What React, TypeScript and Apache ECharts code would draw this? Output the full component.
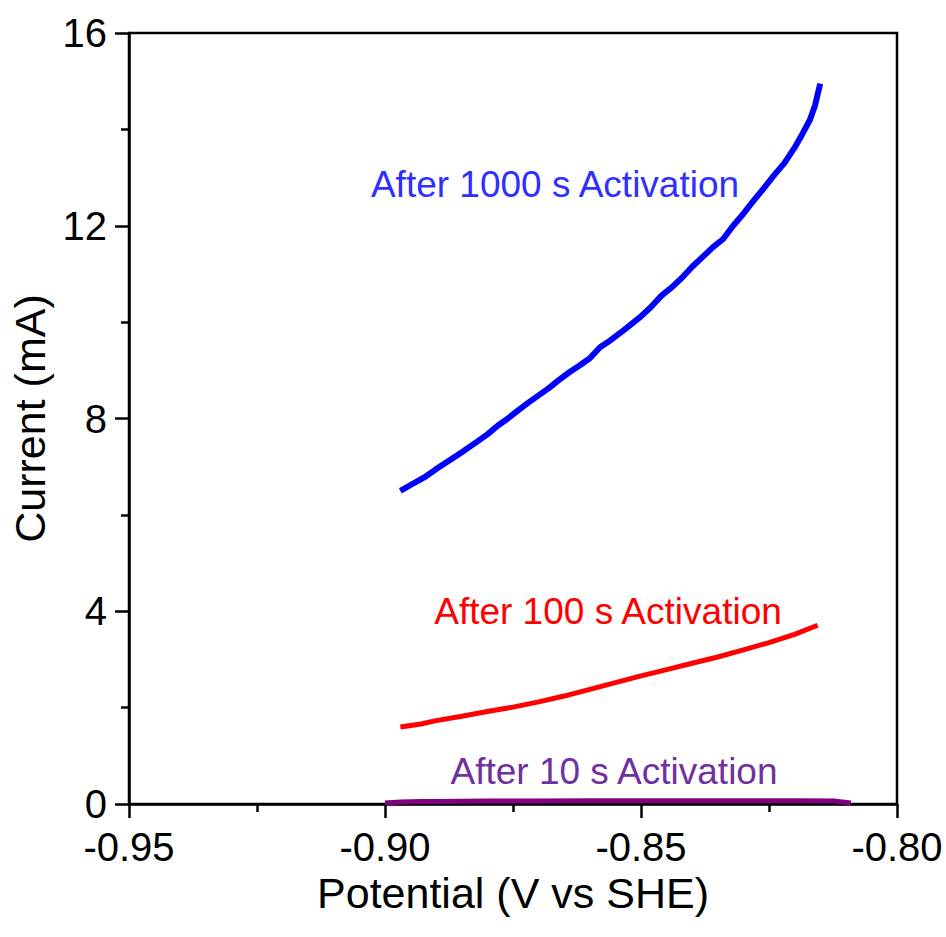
import React, { useEffect, useRef } from "react";
import * as echarts from "echarts";

const xTicks = [-0.95, -0.9, -0.85, -0.8];
const yTicks = [0, 4, 8, 12, 16];

const blueX = [-0.897, -0.895, -0.892, -0.89, -0.887, -0.885, -0.882, -0.88, -0.878, -0.876, -0.874, -0.872, -0.87, -0.868, -0.866, -0.864, -0.862, -0.86, -0.858, -0.856, -0.854, -0.852, -0.85, -0.848, -0.846, -0.844, -0.842, -0.84, -0.838, -0.836, -0.834, -0.832, -0.83, -0.828, -0.826, -0.824, -0.822, -0.82, -0.8185, -0.817, -0.816, -0.815];
const blueY = [6.5, 6.62, 6.8, 6.95, 7.16, 7.3, 7.52, 7.67, 7.85, 8.0, 8.17, 8.33, 8.48, 8.63, 8.8, 8.96, 9.1, 9.25, 9.48, 9.62, 9.78, 9.95, 10.12, 10.32, 10.55, 10.72, 10.92, 11.15, 11.35, 11.55, 11.72, 12.0, 12.25, 12.52, 12.78, 13.05, 13.3, 13.62, 13.9, 14.2, 14.5, 14.95];

const redX = [-0.897, -0.893, -0.89, -0.885, -0.88, -0.875, -0.87, -0.865, -0.86, -0.855, -0.85, -0.845, -0.84, -0.835, -0.83, -0.825, -0.82, -0.8155];
const redY = [1.6, 1.66, 1.73, 1.82, 1.92, 2.01, 2.12, 2.24, 2.38, 2.52, 2.66, 2.79, 2.92, 3.05, 3.2, 3.35, 3.52, 3.71];

const purpleX = [-0.9, -0.897, -0.893, -0.89, -0.88, -0.87, -0.86, -0.85, -0.84, -0.83, -0.82, -0.812, -0.809];
const purpleY = [0.02, 0.04, 0.05, 0.05, 0.06, 0.06, 0.07, 0.07, 0.07, 0.07, 0.07, 0.06, 0.02];

const labels = [
  { text: "After 1000 s Activation", color: "#2f2fff", x: 555, y: 184 },
  { text: "After 100 s Activation", color: "#ff0000", x: 608, y: 611 },
  { text: "After 10 s Activation", color: "#7030a0", x: 614, y: 771 },
];

const zip = (xs: number[], ys: number[]) => xs.map((x, i) => [x, ys[i]]);

export default function App() {
  const ref = useRef<HTMLDivElement>(null);
  useEffect(() => {
    if (!ref.current) return;
    const chart = echarts.init(ref.current, undefined, { renderer: "svg" });
    const font = "Liberation Sans, Arial, sans-serif";
    const axisLine = { lineStyle: { color: "#000", width: 2.5 } };
    chart.setOption({
      animation: false,
      backgroundColor: "#fff",
      grid: {
        left: 129,
        right: 49,
        top: 33,
        bottom: 133,
        show: true,
        borderColor: "#000",
        borderWidth: 2.5,
        backgroundColor: "transparent",
      },
      xAxis: {
        type: "value",
        min: xTicks[0],
        max: xTicks[xTicks.length - 1],
        interval: 0.05,
        name: "Potential (V vs SHE)",
        nameLocation: "middle",
        nameGap: 58,
        nameTextStyle: { fontFamily: font, fontSize: 43, color: "#000" },
        axisLine,
        axisTick: { show: true, inside: false, length: 14, lineStyle: { width: 2.5, color: "#000" } },
        minorTick: { show: true, splitNumber: 2, length: 8, lineStyle: { width: 2.5, color: "#000" } },
        splitLine: { show: false },
        axisLabel: {
          fontFamily: font,
          fontSize: 40,
          color: "#000",
          margin: 23,
          formatter: (v: number) => v.toFixed(2),
        },
      },
      yAxis: {
        type: "value",
        min: yTicks[0],
        max: yTicks[yTicks.length - 1],
        interval: 4,
        name: "Current (mA)",
        nameLocation: "middle",
        nameGap: 76,
        nameTextStyle: { fontFamily: font, fontSize: 43, color: "#000" },
        axisLine,
        axisTick: { show: true, inside: false, length: 14, lineStyle: { width: 2.5, color: "#000" } },
        minorTick: { show: true, splitNumber: 2, length: 8, lineStyle: { width: 2.5, color: "#000" } },
        splitLine: { show: false },
        axisLabel: { fontFamily: font, fontSize: 40, color: "#000", margin: 22 },
      },
      series: [
        {
          type: "line",
          data: zip(purpleX, purpleY),
          showSymbol: false,
          lineStyle: { color: "#800080", width: 5 },
          z: 3,
        },
        {
          type: "line",
          data: zip(redX, redY),
          showSymbol: false,
          lineStyle: { color: "#ff0000", width: 5 },
          z: 3,
        },
        {
          type: "line",
          data: zip(blueX, blueY),
          showSymbol: false,
          lineStyle: { color: "#0000ff", width: 6 },
          z: 3,
        },
      ],
      graphic: labels.map((l) => ({
        type: "text",
        x: l.x,
        y: l.y,
        style: {
          text: l.text,
          fill: l.color,
          font: `37px ${font}`,
          textAlign: "center",
          textVerticalAlign: "middle",
        },
      })),
    });
    return () => chart.dispose();
  }, []);
  return (
    <div
      ref={ref}
      style={{ position: "fixed", left: 0, top: 0, width: 946, height: 937 }}
    />
  );
}
